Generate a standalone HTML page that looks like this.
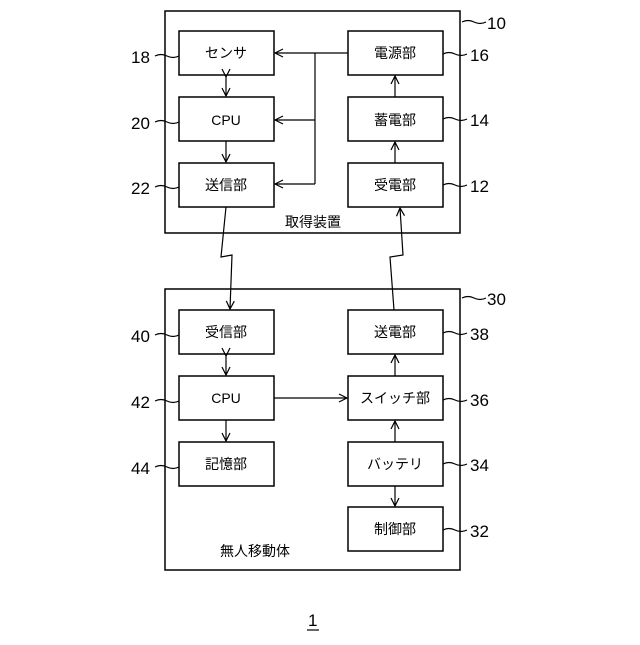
<!DOCTYPE html>
<html><head><meta charset="utf-8"><style>body{margin:0;background:#fff}</style></head><body>
<svg width="640" height="640" xmlns="http://www.w3.org/2000/svg" font-family="Liberation Sans, Noto Sans CJK JP, sans-serif">
<defs><marker id="a" markerWidth="10" markerHeight="10" refX="9" refY="5" orient="auto" markerUnits="userSpaceOnUse"><path d="M1,1 L9,5 L1,9" fill="none" stroke="#000" stroke-width="1.2"/></marker></defs>
<g fill="none" stroke="#000" stroke-width="1.5">
<rect x="165" y="11" width="295" height="222"/>
<rect x="165" y="289" width="295" height="281"/>
<rect x="179" y="31" width="95" height="44"/><rect x="179" y="97" width="95" height="44"/><rect x="179" y="163" width="95" height="44"/>
<rect x="348" y="31" width="95" height="44"/><rect x="348" y="97" width="95" height="44"/><rect x="348" y="163" width="95" height="44"/>
<rect x="179" y="310" width="95" height="44"/><rect x="179" y="376" width="95" height="44"/><rect x="179" y="442" width="95" height="44"/>
<rect x="348" y="310" width="95" height="44"/><rect x="348" y="376" width="95" height="44"/><rect x="348" y="442" width="95" height="44"/><rect x="348" y="507" width="95" height="44"/>
</g>
<g fill="none" stroke="#000" stroke-width="1.2">
<line x1="226" y1="77" x2="226" y2="96" marker-end="url(#a)" marker-start="url(#a)"/>
<line x1="226" y1="141" x2="226" y2="162" marker-end="url(#a)"/>
<line x1="348" y1="53" x2="275" y2="53" marker-end="url(#a)"/>
<line x1="315" y1="53" x2="315" y2="184"/>
<line x1="315" y1="120" x2="275" y2="120" marker-end="url(#a)"/>
<line x1="315" y1="184" x2="275" y2="184" marker-end="url(#a)"/>
<line x1="395" y1="97" x2="395" y2="76" marker-end="url(#a)"/>
<line x1="395" y1="163" x2="395" y2="142" marker-end="url(#a)"/>
<polyline points="226,207 221,257 232,255 230,309" marker-end="url(#a)"/>
<polyline points="394,310 390,257 403,255 400,208" marker-end="url(#a)"/>
<line x1="226" y1="356" x2="226" y2="375" marker-end="url(#a)" marker-start="url(#a)"/>
<line x1="226" y1="420" x2="226" y2="441" marker-end="url(#a)"/>
<line x1="274" y1="398" x2="347" y2="398" marker-end="url(#a)"/>
<line x1="395" y1="376" x2="395" y2="355" marker-end="url(#a)"/>
<line x1="395" y1="442" x2="395" y2="421" marker-end="url(#a)"/>
<line x1="395" y1="486" x2="395" y2="506" marker-end="url(#a)"/>
<path d="M155,56 q6,-3 12,0 t12,0"/><path d="M155,122 q6,-3 12,0 t12,0"/><path d="M155,187 q6,-3 12,0 t12,0"/>
<path d="M155,335 q6,-3 12,0 t12,0"/><path d="M155,401 q6,-3 12,0 t12,0"/><path d="M155,467 q6,-3 12,0 t12,0"/>
<path d="M443,54 q6,-3 12,0 t12,0"/><path d="M443,119 q6,-3 12,0 t12,0"/><path d="M443,185 q6,-3 12,0 t12,0"/>
<path d="M443,333 q6,-3 12,0 t12,0"/><path d="M443,400 q6,-3 12,0 t12,0"/><path d="M443,464 q6,-3 12,0 t12,0"/><path d="M443,530 q6,-3 12,0 t12,0"/>
<path d="M462,22 q6,-3 12,0 t12,0"/><path d="M462,298 q6,-3 12,0 t12,0"/>
</g>
<g font-size="14" text-anchor="middle">
<text x="226" y="58">センサ</text><text x="226" y="125">CPU</text><text x="226" y="190">送信部</text>
<text x="395" y="58">電源部</text><text x="395" y="125">蓄電部</text><text x="395" y="190">受電部</text>
<text x="226" y="337">受信部</text><text x="226" y="403">CPU</text><text x="226" y="469">記憶部</text>
<text x="395" y="337">送電部</text><text x="395" y="403">スイッチ部</text><text x="395" y="469">バッテリ</text><text x="395" y="534">制御部</text>
<text x="313" y="227">取得装置</text><text x="255" y="556">無人移動体</text>
</g>
<g font-size="17">
<text x="131" y="63">18</text><text x="131" y="129">20</text><text x="131" y="194">22</text>
<text x="131" y="342">40</text><text x="131" y="408">42</text><text x="131" y="474">44</text>
<text x="470" y="61">16</text><text x="470" y="126">14</text><text x="470" y="192">12</text>
<text x="470" y="340">38</text><text x="470" y="406">36</text><text x="470" y="471">34</text><text x="470" y="537">32</text>
<text x="487" y="29">10</text><text x="487" y="305">30</text>
<text x="308" y="626">1</text>
</g>
<line x1="307" y1="630" x2="319" y2="630" stroke="#000" stroke-width="1.2"/>
</svg>
</body></html>
